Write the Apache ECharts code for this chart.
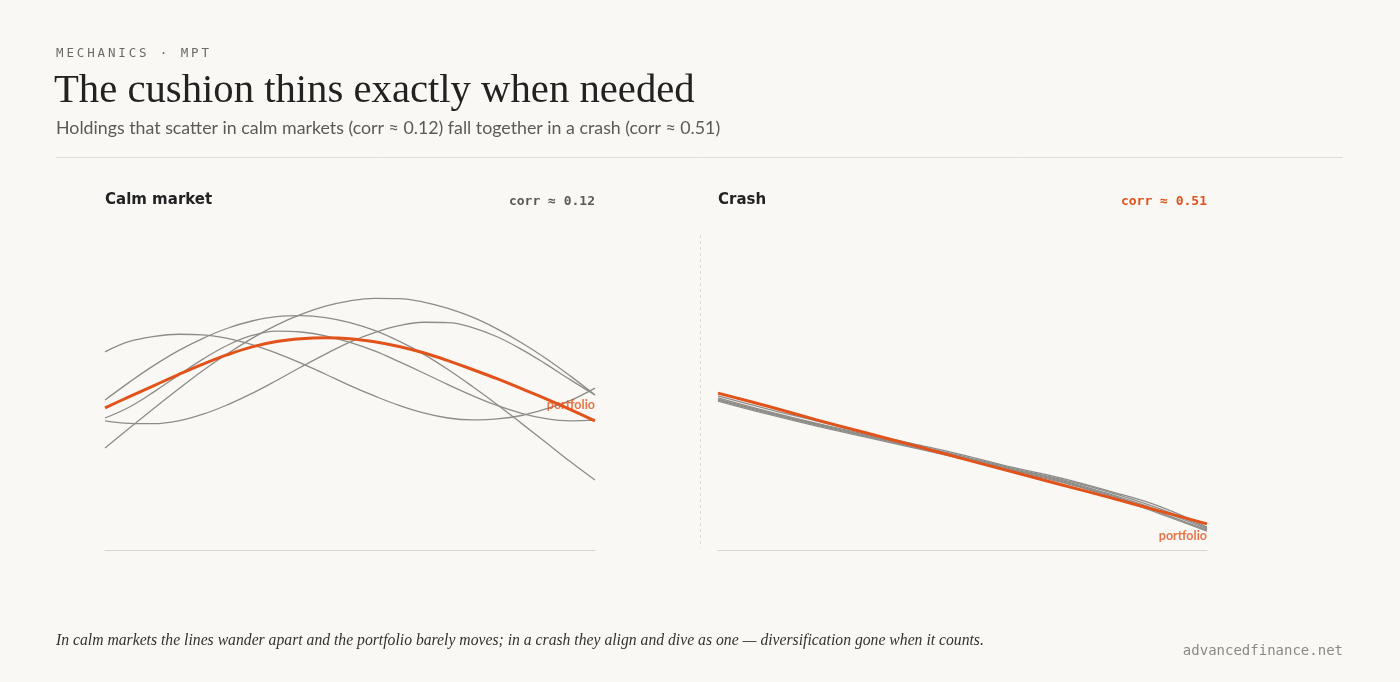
<!DOCTYPE html>
<html>
<head>
<meta charset="utf-8">
<title>The cushion thins exactly when needed</title>
<script src="https://cdn.jsdelivr.net/npm/echarts@6/dist/echarts.min.js"></script>
<style>
  html, body { margin: 0; padding: 0; background: #f9f8f5; }
  #chart { width: 1400px; height: 682px; }
</style>
</head>
<body>
<div id="chart"></div>
<script>
// steps through each window (0 = start, 100 = end)
var calmSteps = [0, 5, 10, 15, 20, 25, 30, 35, 40, 45, 50, 55, 60, 65, 70, 75, 80, 85, 90, 95, 100];
var crashSteps = [0, 10, 20, 30, 40, 50, 60, 70, 80, 90, 100];

// calm market - five holdings wander apart (index level)
var calmA = [62.9, 66.2, 67.8, 68.5, 68.3, 67.2, 65.2, 62.5, 59.3, 55.8, 52.2, 48.9, 45.9, 43.5, 41.9, 41.3, 41.6, 42.7, 44.8, 47.5, 51.4];
var calmB = [47.6, 53.3, 58.6, 63.3, 67.2, 70.4, 72.7, 74.1, 74.4, 73.8, 72.2, 69.7, 66.3, 62.2, 57.3, 51.9, 46.2, 40.2, 34.1, 28.0, 22.2];
var calmC = [41.9, 45.4, 50.2, 55.5, 60.6, 65.0, 68.1, 69.5, 69.2, 68.0, 65.9, 63.2, 59.8, 56.2, 52.5, 49.0, 45.9, 43.4, 41.7, 41.0, 41.2];
var calmD = [32.4, 38.7, 45.0, 51.1, 57.0, 62.3, 67.2, 71.4, 74.8, 77.4, 79.1, 79.9, 79.8, 78.7, 76.7, 73.9, 70.2, 65.8, 60.8, 55.2, 49.2];
var calmE = [41.0, 40.2, 40.1, 41.0, 43.1, 46.1, 49.7, 53.8, 58.1, 62.2, 66.0, 69.0, 71.2, 72.3, 72.2, 70.6, 67.7, 63.7, 59.0, 54.0, 49.2];
var calmPortfolio = [45.1, 48.7, 52.2, 55.7, 59.0, 62.0, 64.5, 66.2, 67.1, 67.4, 67.1, 66.1, 64.6, 62.6, 60.1, 57.3, 54.4, 51.2, 48.0, 44.6, 41.0];

// crash - same holdings fall together
var crashA = [48.9, 44.8, 41.0, 37.1, 33.7, 30.2, 26.3, 22.9, 18.7, 14.0, 7.3];
var crashB = [48.3, 44.1, 40.3, 36.8, 33.3, 29.8, 26.0, 22.5, 18.4, 13.3, 7.0];
var crashC = [47.9, 43.8, 40.0, 36.5, 33.0, 29.5, 25.7, 22.2, 17.8, 12.7, 6.7];
var crashD = [47.6, 43.5, 39.7, 36.2, 32.7, 29.2, 25.4, 21.9, 17.5, 12.1, 6.3];
var crashE = [47.3, 43.2, 39.4, 35.9, 32.4, 28.9, 25.1, 21.6, 17.1, 11.7, 6.0];
var crashPortfolio = [49.8, 45.7, 41.4, 37.3, 33.2, 29.0, 24.9, 20.8, 16.7, 12.5, 8.3];

var ORANGE = '#e2531c';
var GREY = '#8d8c88';

function pts(steps, vals) {
  return steps.map(function (x, i) { return [x, vals[i]]; });
}

function holding(steps, vals, idx) {
  return {
    type: 'line', xAxisIndex: idx, yAxisIndex: idx,
    data: pts(steps, vals), smooth: 0.4, showSymbol: false, silent: true,
    lineStyle: { color: GREY, width: 1.3 }, z: 2
  };
}

function portfolio(steps, vals, idx) {
  return {
    type: 'line', xAxisIndex: idx, yAxisIndex: idx,
    data: pts(steps, vals), smooth: 0.4, showSymbol: false, silent: true,
    lineStyle: { color: ORANGE, width: 3 }, z: 3
  };
}

// "portfolio" tag sitting on the last point of the portfolio line
function endTag(steps, vals, idx, dy) {
  var last = steps.length - 1;
  return {
    type: 'scatter', xAxisIndex: idx, yAxisIndex: idx,
    data: [[steps[last], vals[last]]], symbolSize: 0, silent: true, z: 4,
    label: {
      show: true, formatter: 'portfolio', position: [0, dy],
      align: 'right', verticalAlign: 'middle',
      color: ORANGE, fontFamily: 'Lato', fontWeight: 'bold', fontSize: 12.5
    }
  };
}

// letter-spaced text via rich segments
function spaced(s) {
  return s.split('').join('{g| }');
}

function txt(x, y, text, style) {
  return { type: 'text', x: x, y: y, silent: true,
    style: Object.assign({ text: text, verticalAlign: 'middle' }, style) };
}

var axisX = function (idx) {
  return {
    type: 'value', gridIndex: idx, min: 0, max: 100,
    axisLine: { show: true, lineStyle: { color: '#d7d4cd', width: 1 } },
    axisTick: { show: false }, axisLabel: { show: false }, splitLine: { show: false }
  };
};
var axisY = function (idx) {
  return {
    type: 'value', gridIndex: idx, min: 0, max: 100,
    axisLine: { show: false }, axisTick: { show: false },
    axisLabel: { show: false }, splitLine: { show: false }
  };
};

var chart = echarts.init(document.getElementById('chart'));

var option = {
  backgroundColor: '#f9f8f5',
  animation: false,
  grid: [
    { left: 105, top: 235, width: 490, height: 315 },
    { left: 718, top: 235, width: 489, height: 315 }
  ],
  xAxis: [axisX(0), axisX(1)],
  yAxis: [axisY(0), axisY(1)],
  series: [
    holding(calmSteps, calmA, 0), holding(calmSteps, calmB, 0), holding(calmSteps, calmC, 0),
    holding(calmSteps, calmD, 0), holding(calmSteps, calmE, 0),
    portfolio(calmSteps, calmPortfolio, 0),
    endTag(calmSteps, calmPortfolio, 0, -16),
    holding(crashSteps, crashA, 1), holding(crashSteps, crashB, 1), holding(crashSteps, crashC, 1),
    holding(crashSteps, crashD, 1), holding(crashSteps, crashE, 1),
    portfolio(crashSteps, crashPortfolio, 1),
    endTag(crashSteps, crashPortfolio, 1, 12)
  ],
  graphic: [
    txt(56, 53.5, spaced('MECHANICS · MPT'), {
      fill: '#6b6a66', font: '12.5px "DejaVu Sans Mono"',
      rich: { g: { fontFamily: 'DejaVu Sans', fontSize: 9 } }
    }),
    txt(54, 91, 'The cushion thins exactly when needed', {
      fill: '#232220', font: '40.7px "Liberation Serif"'
    }),
    txt(56, 128, 'Holdings that scatter in calm markets (corr \u2248 0.12) fall together in a crash (corr \u2248 0.51)', {
      fill: '#5b5a56', font: '17.8px Lato'
    }),
    { type: 'line', silent: true, shape: { x1: 56, y1: 157.5, x2: 1343, y2: 157.5 },
      style: { stroke: '#dfddd7', lineWidth: 1 } },
    txt(105, 200, 'Calm market', { fill: '#222', font: 'bold 15px "DejaVu Sans"' }),
    txt(718, 200, 'Crash', { fill: '#222', font: 'bold 15px "DejaVu Sans"' }),
    txt(595, 201.5, 'corr \u2248 0.12', {
      fill: '#5b5a56', font: 'bold 13px "DejaVu Sans Mono"', align: 'right'
    }),
    txt(1207, 201.5, 'corr \u2248 0.51', {
      fill: ORANGE, font: 'bold 13px "DejaVu Sans Mono"', align: 'right'
    }),
    { type: 'line', silent: true, shape: { x1: 700.5, y1: 235, x2: 700.5, y2: 548 },
      style: { stroke: '#dddbd5', lineWidth: 1, lineDash: [3, 3] } },
    txt(56, 641, 'In calm markets the lines wander apart and the portfolio barely moves; in a crash they align and dive as one \u2014 diversification gone when it counts.', {
      fill: '#333230', font: 'italic 15.7px "Liberation Serif"'
    }),
    txt(1343, 651, 'advancedfinance.net', {
      fill: '#8a8985', font: '14px "DejaVu Sans Mono"', align: 'right'
    })
  ]
};

chart.setOption(option);
</script>
</body>
</html>
